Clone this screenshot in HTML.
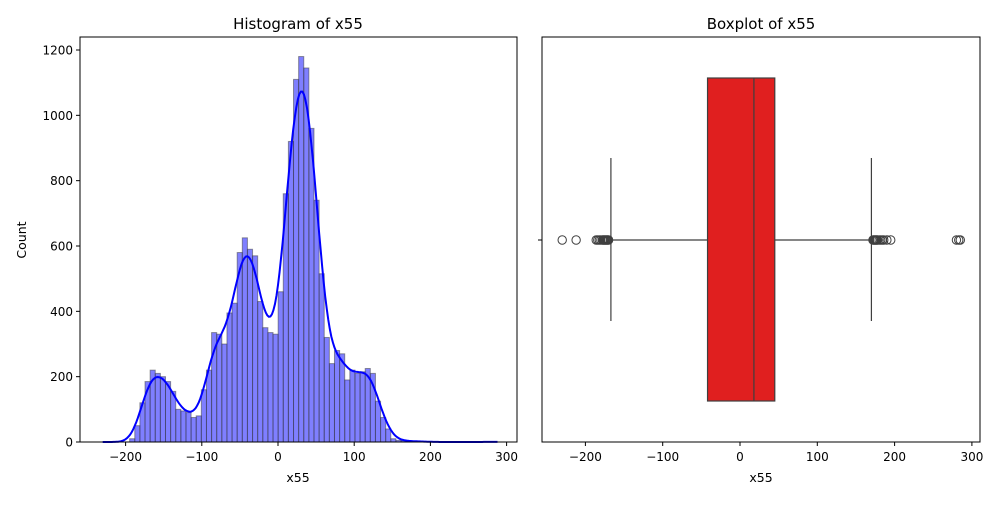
<!DOCTYPE html>
<html><head><meta charset="utf-8"><style>
body{margin:0;background:#fff;font-family:"Liberation Sans","DejaVu Sans",sans-serif;}
svg text{font-family:"DejaVu Sans","Liberation Sans",sans-serif;}
</style></head><body>
<svg id="c" width="1000" height="500" xmlns="http://www.w3.org/2000/svg"></svg>
<script>
const binStart=-235, binWidth=6.72;
const counts=[0,0,0,0,0,0,10,50,120,185,220,210,200,185,155,100,95,90,75,80,160,220,335,330,300,395,425,580,625,590,570,430,350,335,330,460,760,920,1110,1180,1145,960,740,515,320,240,280,270,190,220,210,215,225,210,125,75,40,10,5,4,3,2,2,1,1,0,0,0,0,0,0,0,0,0,0,0,1];
const yTicks=[0,200,400,600,800,1000,1200];
const xTicks=[-200,-100,0,100,200,300];
const boxStats={q1:-42,median:18,q3:45,lo:-167,hi:170};
const outliers=[-230,-212,-186,-184,-182,-180,-178,-177,-176,-175,-174,-173,-172,-171,-170,172,173,174,175,176,177,178,180,182,184,186,190,195,280,283,285];

const NS="http://www.w3.org/2000/svg", svg=document.getElementById('c');
function el(t,a,p){const e=document.createElementNS(NS,t);for(const k in a)e.setAttribute(k,a[k]);(p||svg).appendChild(e);return e;}
const L={x0:80,x1:517,y0:37,y1:442};
const hx=v=>278+v*0.762, hy=v=>442-v*0.32667;
const R={x0:542,x1:980};
const bx=v=>740+v*0.773;

const g1=el('g',{});
counts.forEach((c,i)=>{if(c<=0)return;const a=binStart+i*binWidth;
 const r=el('rect',{x:hx(a),y:hy(c),width:hx(a+binWidth)-hx(a),height:442-hy(c),fill:'rgba(0,0,255,0.5)',stroke:'rgba(60,60,60,0.5)','stroke-width':1},g1);
 });
let pts=[];for(let v=-230;v<=288;v+=2){let s=0;counts.forEach((c,i)=>{const m=binStart+(i+0.5)*binWidth;const d=(v-m)/9.5;s+=c*Math.exp(-0.5*d*d);});s*=binWidth/(9.5*Math.sqrt(2*Math.PI));pts.push(hx(v).toFixed(1)+','+hy(s).toFixed(1));}
const k=el('polyline',{points:pts.join(' '),fill:'none',stroke:'#0000ff','stroke-width':2},g1);

const f1=el('rect',{x:L.x0,y:L.y0,width:L.x1-L.x0,height:L.y1-L.y0,fill:'none',stroke:'#000','stroke-width':1},g1);

yTicks.forEach(t=>{el('line',{x1:76,x2:80,y1:hy(t),y2:hy(t),stroke:'#000'},g1);const tx=el('text',{x:73,y:hy(t)+4.5,'text-anchor':'end','font-size':12},g1);tx.textContent=t;});
xTicks.forEach(t=>{el('line',{x1:hx(t),x2:hx(t),y1:442,y2:446,stroke:'#000'},g1);const tx=el('text',{x:hx(t),y:461,'text-anchor':'middle','font-size':12},g1);tx.textContent=t<0?'\u2212'+(-t):t;});
let t=el('text',{x:298,y:482,'text-anchor':'middle','font-size':12.5},g1);t.textContent='x55';
t=el('text',{x:26,y:240,'text-anchor':'middle','font-size':12.5,transform:'rotate(-90 26 240)'},g1);t.textContent='Count';
t=el('text',{x:298,y:29,'text-anchor':'middle','font-size':15},g1);t.textContent='Histogram of x55';

const g2=el('g',{});
const cy=240;
el('line',{x1:bx(boxStats.lo),x2:bx(boxStats.q1),y1:cy,y2:cy,stroke:'#3f3f3f','stroke-width':1.2},g2);
el('line',{x1:bx(boxStats.q3),x2:bx(boxStats.hi),y1:cy,y2:cy,stroke:'#3f3f3f','stroke-width':1.2},g2);
el('line',{x1:bx(boxStats.lo),x2:bx(boxStats.lo),y1:158,y2:321,stroke:'#3f3f3f','stroke-width':1.2},g2);
el('line',{x1:bx(boxStats.hi),x2:bx(boxStats.hi),y1:158,y2:321,stroke:'#3f3f3f','stroke-width':1.2},g2);
const b=el('rect',{x:bx(boxStats.q1),y:78,width:bx(boxStats.q3)-bx(boxStats.q1),height:323,fill:'#e01f1f',stroke:'#3f3f3f','stroke-width':1.2},g2);

el('line',{x1:bx(boxStats.median),x2:bx(boxStats.median),y1:78,y2:401,stroke:'#3f3f3f','stroke-width':1.2},g2);
outliers.forEach(v=>{const c=el('circle',{cx:bx(v),cy:cy,r:4.2,fill:'none',stroke:'#3f3f3f','stroke-width':1},g2);});
const f2=el('rect',{x:R.x0,y:37,width:R.x1-R.x0,height:405,fill:'none',stroke:'#000','stroke-width':1},g2);

el('line',{x1:538,x2:542,y1:cy,y2:cy,stroke:'#000'},g2);
xTicks.forEach(v=>{el('line',{x1:bx(v),x2:bx(v),y1:442,y2:446,stroke:'#000'},g2);const tx=el('text',{x:bx(v),y:461,'text-anchor':'middle','font-size':12},g2);tx.textContent=v<0?'\u2212'+(-v):v;});
t=el('text',{x:761,y:482,'text-anchor':'middle','font-size':12.5},g2);t.textContent='x55';
t=el('text',{x:761,y:29,'text-anchor':'middle','font-size':15},g2);t.textContent='Boxplot of x55';
</script>
</body></html>
